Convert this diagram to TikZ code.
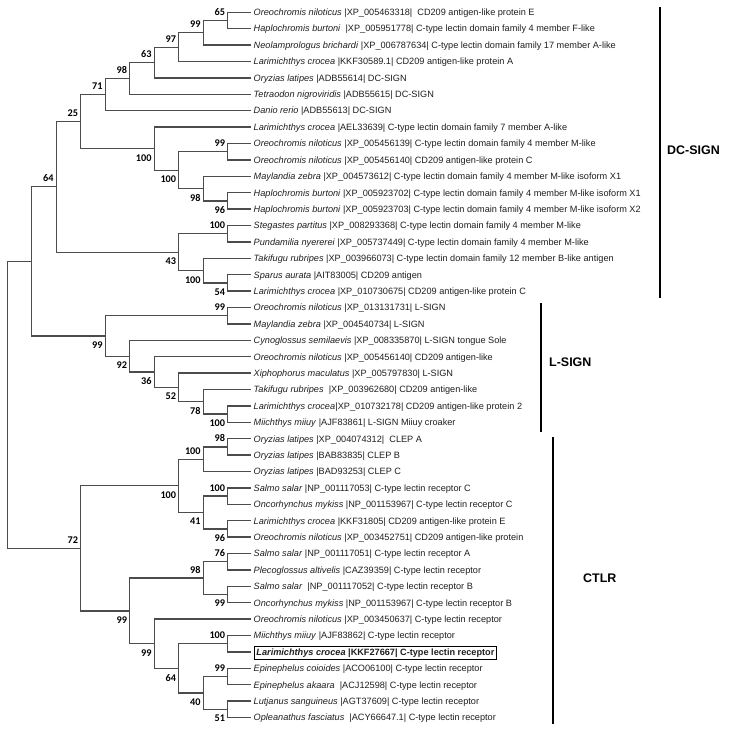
\documentclass[tikz,border=0pt]{standalone}
\usepackage{fontspec}
\setmainfont{Liberation Sans}
\newfontfamily\bsfont{Carlito}
\usetikzlibrary{calc}
\tikzset{
  br/.style={draw=black!70, line width=1.25pt, line cap=rect},
  lf/.style={anchor=base west, inner sep=0pt, font=\fontsize{9.2}{10}\selectfont, text=black!88},
  bs/.style={inner sep=0pt, font=\bsfont\bfseries\fontsize{10.3}{11}\selectfont},
  cladebar/.style={draw=black, line width=1.8pt},
  cladelbl/.style={anchor=west, inner sep=0pt, font=\bfseries\fontsize{12.5}{14}\selectfont}
}
\newcommand\inode[4]{%
  \coordinate (m#1) at ($(#2)!0.5!(#3)$);
  \coordinate (#1) at (m#1 -| x#4);
  \draw[br] (#2) -| (#1) |- (#3);}
\newcommand\bsa[2]{\node[bs,anchor=base east] (b#1) at ($(#1)+(-2.5,-5)$) {#2};}
\newcommand\bsb[2]{\node[bs,anchor=north east] (b#1) at ($(#1)+(-2.5,5.5)$) {#2};}
\newcommand\leaf[3]{\node[lf] (t#1) at ($(l#1)+(3.5,3.3)$) {\textit{#2} #3};}
\begin{document}
\begin{tikzpicture}[x=1bp,y=-1bp]
\fill[white] (0,0) rectangle (732,733);
\useasboundingbox (0,0) rectangle (732,733);
% level x positions
\foreach \k in {0,...,9} \coordinate (x\k) at ({7.3+24.5*\k},0);
% leaf tips
\foreach \i in {1,...,44} \coordinate (l\i) at (250,{12.3+(\i-1)*16.4});
% ---- DC-SIGN
\inode{A}{l1}{l2}{9}
\inode{B}{A}{l3}{8}
\inode{C}{B}{l4}{7}
\inode{D}{C}{l5}{6}
\inode{E}{D}{l6}{5}
\inode{F}{E}{l7}{4}
\inode{J1}{l9}{l10}{9}
\inode{J3}{l12}{l13}{9}
\inode{J2}{l11}{J3}{8}
\inode{J4}{J1}{J2}{7}
\inode{H}{l8}{J4}{6}
\inode{G}{F}{H}{3}
\inode{K1}{l14}{l15}{9}
\inode{K3}{l17}{l18}{9}
\inode{K2}{l16}{K3}{8}
\inode{K4}{K1}{K2}{7}
\inode{DC}{G}{K4}{2}
% ---- L-SIGN
\inode{M1}{l19}{l20}{9}
\inode{M6}{l25}{l26}{9}
\inode{M5}{l24}{M6}{8}
\inode{M4}{l23}{M5}{7}
\inode{M3}{l22}{M4}{6}
\inode{M2}{l21}{M3}{5}
\inode{LS}{M1}{M2}{4}
\inode{N1}{DC}{LS}{1}
% ---- CTLR
\inode{P1}{l27}{l28}{9}
\inode{P2}{P1}{l29}{8}
\inode{Q1}{l30}{l31}{9}
\inode{Q2}{l32}{l33}{9}
\inode{Q3}{Q1}{Q2}{8}
\inode{R1}{P2}{Q3}{7}
\inode{S1}{l34}{l35}{9}
\inode{S2}{l36}{l37}{9}
\inode{S3}{S1}{S2}{8}
\inode{T1}{l39}{l40}{9}
\inode{T2}{l41}{l42}{9}
\inode{T3}{l43}{l44}{9}
\inode{T4}{T2}{T3}{8}
\inode{T5}{T1}{T4}{7}
\inode{T6}{l38}{T5}{6}
\inode{U1}{S3}{T6}{5}
\inode{CT}{R1}{U1}{3}
\inode{root}{N1}{CT}{0}
% ---- bootstrap values
\bsa{A}{65} \bsa{B}{99} \bsa{C}{97} \bsa{D}{63} \bsa{E}{98} \bsa{F}{71}
\bsa{J1}{99} \bsb{J3}{96} \bsb{J2}{98} \bsb{J4}{100} \bsb{H}{100} \bsa{G}{25}
\bsa{K1}{100} \bsb{K3}{54} \bsb{K2}{100} \bsb{K4}{43} \bsa{DC}{64}
\bsa{M1}{99} \bsb{M6}{100} \bsb{M5}{78} \bsb{M4}{52} \bsb{M3}{36} \bsb{M2}{92} \bsb{LS}{99}
\bsa{P1}{98} \bsa{P2}{100} \bsa{Q1}{100} \bsb{Q2}{96} \bsb{Q3}{41} \bsb{R1}{100}
\bsa{S1}{76} \bsb{S2}{99} \bsa{S3}{98}
\bsa{T1}{100} \bsa{T2}{99} \bsb{T3}{51} \bsb{T4}{40} \bsb{T5}{64} \bsb{T6}{99} \bsb{U1}{99}
\bsa{CT}{72}
% ---- leaf labels
\leaf{1}{Oreochromis niloticus}{|XP\_005463318|\ \ CD209 antigen-like protein E}
\leaf{2}{Haplochromis burtoni}{\ |XP\_005951778| C-type lectin domain family 4 member F-like}
\leaf{3}{Neolamprologus brichardi}{|XP\_006787634| C-type lectin domain family 17 member A-like}
\leaf{4}{Larimichthys crocea}{|KKF30589.1| CD209 antigen-like protein A}
\leaf{5}{Oryzias latipes}{|ADB55614| DC-SIGN}
\leaf{6}{Tetraodon nigroviridis}{|ADB55615| DC-SIGN}
\leaf{7}{Danio rerio}{|ADB55613| DC-SIGN}
\leaf{8}{Larimichthys crocea}{|AEL33639| C-type lectin domain family 7 member A-like}
\leaf{9}{Oreochromis niloticus}{|XP\_005456139| C-type lectin domain family 4 member M-like}
\leaf{10}{Oreochromis niloticus}{|XP\_005456140| CD209 antigen-like protein C}
\leaf{11}{Maylandia zebra}{|XP\_004573612| C-type lectin domain family 4 member M-like isoform X1}
\leaf{12}{Haplochromis burtoni}{|XP\_005923702| C-type lectin domain family 4 member M-like isoform X1}
\leaf{13}{Haplochromis burtoni}{|XP\_005923703| C-type lectin domain family 4 member M-like isoform X2}
\leaf{14}{Stegastes partitus}{|XP\_008293368| C-type lectin domain family 4 member M-like}
\leaf{15}{Pundamilia nyererei}{|XP\_005737449| C-type lectin domain family 4 member M-like}
\leaf{16}{Takifugu rubripes}{|XP\_003966073| C-type lectin domain family 12 member B-like antigen}
\leaf{17}{Sparus aurata}{|AIT83005| CD209 antigen}
\leaf{18}{Larimichthys crocea}{|XP\_010730675| CD209 antigen-like protein C}
\leaf{19}{Oreochromis niloticus}{|XP\_013131731| L-SIGN}
\leaf{20}{Maylandia zebra}{|XP\_004540734| L-SIGN}
\leaf{21}{Cynoglossus semilaevis}{|XP\_008335870| L-SIGN tongue Sole}
\leaf{22}{Oreochromis niloticus}{|XP\_005456140| CD209 antigen-like}
\leaf{23}{Xiphophorus maculatus}{|XP\_005797830| L-SIGN}
\leaf{24}{Takifugu rubripes}{\ |XP\_003962680| CD209 antigen-like}
\leaf{25}{Larimichthys crocea}{\hspace{-0.25em}|XP\_010732178| CD209 antigen-like protein 2}
\leaf{26}{Miichthys miiuy}{|AJF83861| L-SIGN Miiuy croaker}
\leaf{27}{Oryzias latipes}{|XP\_004074312|\ \ CLEP A}
\leaf{28}{Oryzias latipes}{|BAB83835| CLEP B}
\leaf{29}{Oryzias latipes}{|BAD93253| CLEP C}
\leaf{30}{Salmo salar}{|NP\_001117053| C-type lectin receptor C}
\leaf{31}{Oncorhynchus mykiss}{|NP\_001153967| C-type lectin receptor C}
\leaf{32}{Larimichthys crocea}{|KKF31805| CD209 antigen-like protein E}
\leaf{33}{Oreochromis niloticus}{|XP\_003452751| CD209 antigen-like protein}
\leaf{34}{Salmo salar}{|NP\_001117051| C-type lectin receptor A}
\leaf{35}{Plecoglossus altivelis}{|CAZ39359| C-type lectin receptor}
\leaf{36}{Salmo salar}{\ |NP\_001117052| C-type lectin receptor B}
\leaf{37}{Oncorhynchus mykiss}{|NP\_001153967| C-type lectin receptor B}
\leaf{38}{Oreochromis niloticus}{|XP\_003450637| C-type lectin receptor}
\leaf{39}{Miichthys miiuy}{|AJF83862| C-type lectin receptor}
\node[lf, draw=black, line width=1pt, inner xsep=2.5pt, inner ysep=2.2pt] (t40) at ($(l40)+(3.5,3.3)$)
  {\bfseries\textit{Larimichthys crocea} |KKF27667| C-type lectin receptor};
\leaf{41}{Epinephelus coioides}{|ACO06100| C-type lectin receptor}
\leaf{42}{Epinephelus akaara}{\ |ACJ12598| C-type lectin receptor}
\leaf{43}{Lutjanus sanguineus}{|AGT37609| C-type lectin receptor}
\leaf{44}{Opleanathus fasciatus}{\ |ACY66647.1| C-type lectin receptor}
% ---- clade bars and names
\coordinate (dcT) at (660,7);   \coordinate (dcB) at (660,298);
\coordinate (lsT) at (541,303); \coordinate (lsB) at (541,432);
\coordinate (ctT) at (553,437); \coordinate (ctB) at (553,724);
\draw[cladebar] (dcT) -- (dcB);
\draw[cladebar] (lsT) -- (lsB);
\draw[cladebar] (ctT) -- (ctB);
\node[cladelbl] (dcL) at (667,150) {DC-SIGN};
\node[cladelbl] (lsL) at (549,362) {L-SIGN};
\node[cladelbl] (ctL) at (583,578) {CTLR};
\end{tikzpicture}
\end{document}
